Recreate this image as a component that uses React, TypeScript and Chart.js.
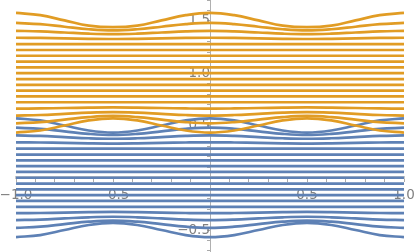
import { useEffect, useRef } from "react";
import { Chart, registerables } from "chart.js";

Chart.register(...registerables);

// x positions where the curves were read
const xSamples = [-1, -0.875, -0.75, -0.625, -0.5, -0.375, -0.25, -0.125, 0, 0.125, 0.25, 0.375, 0.5, 0.625, 0.75, 0.875, 1];

// blue family: curved lines near the band edges (values at xSamples)
const blueWavy: number[][] = [
  [0.568, 0.548, 0.5, 0.452, 0.432, 0.452, 0.5, 0.548, 0.568, 0.548, 0.5, 0.452, 0.432, 0.452, 0.5, 0.548, 0.568],
  [0.479, 0.468, 0.444, 0.42, 0.409, 0.42, 0.444, 0.468, 0.479, 0.468, 0.444, 0.42, 0.409, 0.42, 0.444, 0.468, 0.479],
  [0.405, 0.4, 0.389, 0.378, 0.373, 0.378, 0.389, 0.4, 0.405, 0.4, 0.389, 0.378, 0.373, 0.378, 0.389, 0.4, 0.405],
  [0.339, 0.337, 0.333, 0.329, 0.327, 0.329, 0.333, 0.337, 0.339, 0.337, 0.333, 0.329, 0.327, 0.329, 0.333, 0.337, 0.339],
  [-0.339, -0.337, -0.333, -0.329, -0.327, -0.329, -0.333, -0.337, -0.339, -0.337, -0.333, -0.329, -0.327, -0.329, -0.333, -0.337, -0.339],
  [-0.405, -0.4, -0.389, -0.378, -0.373, -0.378, -0.389, -0.4, -0.405, -0.4, -0.389, -0.378, -0.373, -0.378, -0.389, -0.4, -0.405],
  [-0.479, -0.468, -0.444, -0.42, -0.409, -0.42, -0.444, -0.468, -0.479, -0.468, -0.444, -0.42, -0.409, -0.42, -0.444, -0.468, -0.479],
  [-0.568, -0.548, -0.5, -0.452, -0.432, -0.452, -0.5, -0.548, -0.568, -0.548, -0.5, -0.452, -0.432, -0.452, -0.5, -0.548, -0.568],
];
// blue family: flat lines (constant level)
const blueFlat = [-0.278, -0.222, -0.167, -0.111, -0.056, 0, 0.056, 0.111, 0.167, 0.222, 0.278];

// orange family
const orangeWavy: number[][] = [
  [1.577, 1.555, 1.505, 1.455, 1.44, 1.455, 1.505, 1.555, 1.577, 1.555, 1.505, 1.455, 1.44, 1.455, 1.505, 1.555, 1.577],
  [1.481, 1.469, 1.444, 1.42, 1.409, 1.42, 1.444, 1.469, 1.481, 1.469, 1.444, 1.42, 1.409, 1.42, 1.444, 1.469, 1.481],
  [1.405, 1.4, 1.389, 1.378, 1.373, 1.378, 1.389, 1.4, 1.405, 1.4, 1.389, 1.378, 1.373, 1.378, 1.389, 1.4, 1.405],
  [1.339, 1.337, 1.333, 1.329, 1.327, 1.329, 1.333, 1.337, 1.339, 1.337, 1.333, 1.329, 1.327, 1.329, 1.333, 1.337, 1.339],
  [0.661, 0.663, 0.667, 0.671, 0.673, 0.671, 0.667, 0.663, 0.661, 0.663, 0.667, 0.671, 0.673, 0.671, 0.667, 0.663, 0.661],
  [0.595, 0.6, 0.611, 0.622, 0.627, 0.622, 0.611, 0.6, 0.595, 0.6, 0.611, 0.622, 0.627, 0.622, 0.611, 0.6, 0.595],
  [0.521, 0.532, 0.556, 0.58, 0.591, 0.58, 0.556, 0.532, 0.521, 0.532, 0.556, 0.58, 0.591, 0.58, 0.556, 0.532, 0.521],
  [0.432, 0.452, 0.5, 0.548, 0.568, 0.548, 0.5, 0.452, 0.432, 0.452, 0.5, 0.548, 0.568, 0.548, 0.5, 0.452, 0.432],
];
const orangeFlat = [0.722, 0.778, 0.833, 0.889, 0.944, 1.0, 1.056, 1.111, 1.167, 1.222, 1.278];

// tick labels
const xTickValues = [-1, -0.5, 0.5, 1];
const xTickLabels = ["\u22121.0", "\u22120.5", "0.5", "1.0"];
const yTickValues = [-0.5, 0.5, 1, 1.5];
const yTickLabels = ["\u22120.5", "0.5", "1.0", "1.5"];

const BLUE = "#5E81B5";
const ORANGE = "#E19C24";

function labelFor(v: number, values: number[], labels: string[]) {
  for (let i = 0; i < values.length; i++) {
    if (Math.abs(values[i] - v) < 1e-6) return labels[i];
  }
  return "";
}

export default function App() {
  const ref = useRef<HTMLCanvasElement | null>(null);

  useEffect(() => {
    if (!ref.current) return;
    const datasets: any[] = [];
    const lineStyle = (color: string, order: number) => ({
      borderColor: color,
      backgroundColor: color,
      borderWidth: 2.7,
      pointRadius: 0,
      fill: false,
      tension: 0.4,
      order,
    });
    orangeWavy.forEach((row) =>
      datasets.push({ data: row.map((y, i) => ({ x: xSamples[i], y })), ...lineStyle(ORANGE, 0) })
    );
    orangeFlat.forEach((lvl) =>
      datasets.push({ data: [{ x: -1, y: lvl }, { x: 1, y: lvl }], ...lineStyle(ORANGE, 0) })
    );
    blueWavy.forEach((row) =>
      datasets.push({ data: row.map((y, i) => ({ x: xSamples[i], y })), ...lineStyle(BLUE, 1) })
    );
    blueFlat.forEach((lvl) =>
      datasets.push({ data: [{ x: -1, y: lvl }, { x: 1, y: lvl }], ...lineStyle(BLUE, 1) })
    );

    const font = { family: "DejaVu Sans", size: 13.5 };
    const chart = new Chart(ref.current, {
      type: "line",
      data: { datasets },
      options: {
        animation: false,
        responsive: false,
        layout: { padding: { left: 16, right: 11, top: 0, bottom: 0 } },
        plugins: { legend: { display: false }, tooltip: { enabled: false } },
        scales: {
          x: {
            type: "linear",
            min: -1,
            max: 1,
            position: { y: 0 } as any,
            z: 1,
            border: { display: true, color: "#c8c8c8", width: 3 },
            grid: { drawOnChartArea: false, drawTicks: true, tickLength: 3, tickColor: "#aaaaaa" },
            ticks: {
              stepSize: 0.1,
              autoSkip: false,
              maxRotation: 0,
              includeBounds: false,
              padding: 7,
              color: "#808080",
              font,
              callback: (v: any) => labelFor(Number(v), xTickValues, xTickLabels),
            },
            afterFit: (s: any) => {
              s.height = 0;
              s.paddingLeft = 0;
              s.paddingRight = 0;
            },
          },
          y: {
            type: "linear",
            min: -0.71,
            max: 1.7,
            position: { x: 0 } as any,
            z: 1,
            border: { display: true, color: "#b0b0b0", width: 1 },
            grid: { drawOnChartArea: false, drawTicks: true, tickLength: 3, tickColor: "#aaaaaa" },
            ticks: {
              stepSize: 0.1,
              autoSkip: false,
              includeBounds: false,
              padding: 6,
              color: "#808080",
              font,
              callback: (v: any) => labelFor(Number(v), yTickValues, yTickLabels),
            },
            afterFit: (s: any) => {
              s.width = 0;
              s.paddingTop = 0;
              s.paddingBottom = 0;
            },
          },
        },
      },
    });
    return () => chart.destroy();
  }, []);

  return (
    <div style={{ position: "absolute", left: 0, top: 0, width: 415, height: 252, background: "#fff" }}>
      <canvas ref={ref} width={415} height={252} style={{ display: "block" }} />
    </div>
  );
}
